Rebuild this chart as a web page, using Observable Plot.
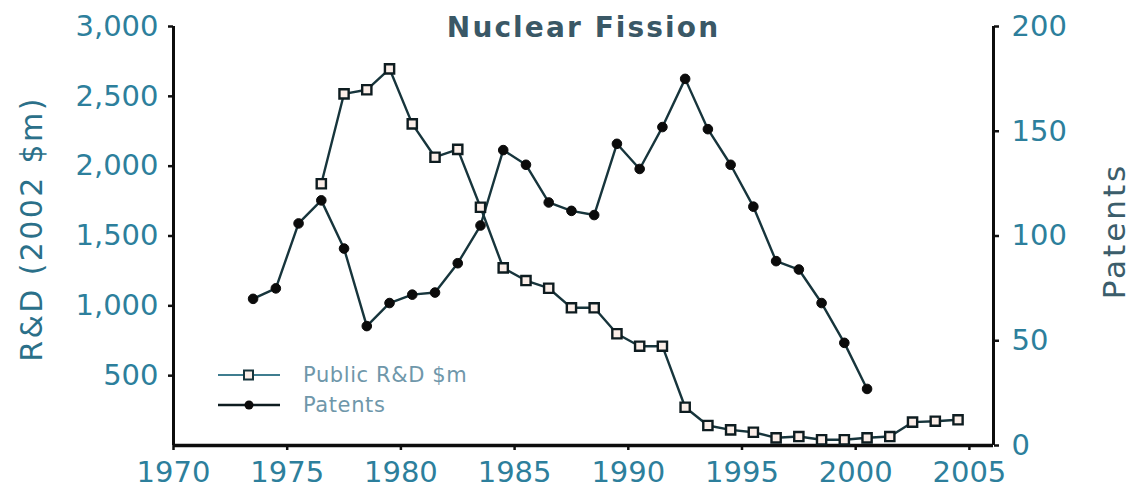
<!DOCTYPE html>
<html>
<head>
<meta charset="utf-8">
<script src="https://cdn.jsdelivr.net/npm/d3@7"></script>
<script src="https://cdn.jsdelivr.net/npm/@observablehq/plot@0.6"></script>
<style>
  html, body { margin: 0; padding: 0; background: #ffffff; }
  #wrap { position: relative; width: 1136px; height: 498px; font-family: "DejaVu Sans", sans-serif; }
  #legend { position: absolute; left: 218px; top: 360px; font-size: 21px; color: #6f97aa; letter-spacing: 0.6px; }
  .row { display: flex; align-items: center; height: 30px; }
  .row svg { margin-right: 23px; }
</style>
</head>
<body>
<div id="wrap"><div id="chart"></div>
  <div id="legend"></div>
</div>
<script>
// ---- data (years are calendar years; points sit at mid-year) ----
const chartTitle = "Nuclear Fission";
const rdYears = [1976, 1977, 1978, 1979, 1980, 1981, 1982, 1983, 1984, 1985, 1986, 1987, 1988, 1989, 1990, 1991, 1992, 1993, 1994, 1995, 1996, 1997, 1998, 1999, 2000, 2001, 2002, 2003, 2004];
const rdValues = [1874, 2518, 2547, 2697, 2303, 2064, 2120, 1706, 1272, 1181, 1126, 986, 986, 800, 711, 711, 274, 143, 112, 95, 55, 64, 41, 41, 55, 64, 167, 174, 184];
const patentYears = [1973, 1974, 1975, 1976, 1977, 1978, 1979, 1980, 1981, 1982, 1983, 1984, 1985, 1986, 1987, 1988, 1989, 1990, 1991, 1992, 1993, 1994, 1995, 1996, 1997, 1998, 1999, 2000];
const patentValues = [70, 75, 106, 117, 94, 57, 68, 72, 73, 87, 105, 141, 134, 116, 112, 110, 144, 132, 152, 175, 151, 134, 114, 88, 84, 68, 49, 27];
const xTicks = [1970, 1975, 1980, 1985, 1990, 1995, 2000, 2005];
const leftTicks = [500, 1000, 1500, 2000, 2500, 3000];
const rightTicks = [0, 50, 100, 150, 200];
const seriesNames = ["Public R&D $m", "Patents"];
const leftLabel = "R&D (2002 $m)";
const rightLabel = "Patents";

// ---- build ----
const K = 3000 / 200; // patents -> left-axis units
const xDomain = [1970, 2006.06];
const rd = rdYears.map((y, i) => ({x: y + 0.5, v: rdValues[i]}));
const pt = patentYears.map((y, i) => ({x: y + 0.5, v: patentValues[i] * K}));

const lineColor = "#17353c";
const tickColor = "#2d7f9c";

const chart = Plot.plot({
  width: 1136,
  height: 498,
  marginLeft: 173,
  marginRight: 143,
  marginTop: 26,
  marginBottom: 53,
  style: {fontFamily: "DejaVu Sans, sans-serif", fontSize: "29px", background: "#ffffff", color: tickColor},
  x: {domain: xDomain},
  y: {domain: [0, 3000]},
  marks: [
    Plot.axisX(xTicks, {anchor: "bottom", tickSize: 5, tickPadding: 11, stroke: "#111", strokeWidth: 2.5, fill: tickColor, tickFormat: d => String(d), label: null}),
    Plot.axisY(leftTicks, {anchor: "left", tickSize: 5, tickPadding: 10, stroke: "#111", strokeWidth: 2.5, fill: tickColor, tickFormat: d3.format(","), label: null}),
    Plot.axisY(rightTicks.map(d => d * K), {anchor: "right", tickSize: 5, tickPadding: 13, stroke: "#111", strokeWidth: 2.5, fill: tickColor, tickFormat: d => String(d / K), label: null}),
    Plot.ruleX([xDomain[0]], {y1: 0, y2: 3000, stroke: "#0d0d0d", strokeWidth: 3}),
    Plot.ruleX([xDomain[1]], {y1: 0, y2: 3000, stroke: "#0d0d0d", strokeWidth: 3}),
    Plot.ruleY([0], {stroke: "#0d0d0d", strokeWidth: 3.5}),
    Plot.line(rd, {x: "x", y: "v", stroke: lineColor, strokeWidth: 2.4}),
    Plot.line(pt, {x: "x", y: "v", stroke: lineColor, strokeWidth: 2.4}),
    Plot.dot(pt, {x: "x", y: "v", r: 4.8, fill: "#0b0b0b", stroke: "#0b0b0b", strokeWidth: 1}),
    Plot.dot(rd, {x: "x", y: "v", symbol: "square", r: 5.2, fill: "#fbeee8", stroke: "#0e1c20", strokeWidth: 2.4}),
    Plot.text([chartTitle], {frameAnchor: "top", lineAnchor: "middle", dy: 2, fontWeight: "bold", fontSize: 28, fill: "#3a5866"}),
    Plot.text([leftLabel], {frameAnchor: "left", textAnchor: "middle", lineAnchor: "middle", rotate: -90, dx: -141, dy: -7, fontSize: 30, fill: "#2b7089"}),
    Plot.text([rightLabel], {frameAnchor: "right", textAnchor: "middle", lineAnchor: "middle", rotate: -90, dx: 122, dy: -5, fontSize: 31, fill: "#3b5d6b"})
  ]
});

// widen the title and axis titles a little, as in the reference
const spacing = new Map([[chartTitle, "2.1px"], [leftLabel, "2.4px"], [rightLabel, "3px"]]);
d3.select(chart).selectAll("text").each(function () {
  const s = spacing.get(this.textContent);
  if (s) this.style.letterSpacing = s;
});
document.getElementById("chart").appendChild(chart);

// ---- legend (HTML overlay) ----
const legend = document.getElementById("legend");
const swatches = [
  `<svg width="62" height="14"><line x1="0" x2="62" y1="7" y2="7" stroke="#3f7d8f" stroke-width="2"/><rect x="26" y="2.5" width="9" height="9" fill="#fbeee8" stroke="#17353c" stroke-width="2"/></svg>`,
  `<svg width="62" height="14"><line x1="0" x2="62" y1="7" y2="7" stroke="#0e1c20" stroke-width="2.5"/><circle cx="31" cy="7" r="4.5" fill="#0b0b0b"/></svg>`
];
seriesNames.forEach((name, i) => {
  const row = document.createElement("div");
  row.className = "row";
  row.innerHTML = swatches[i] + `<span>${name.replace("&", "&amp;")}</span>`;
  legend.appendChild(row);
});
</script>
</body>
</html>
